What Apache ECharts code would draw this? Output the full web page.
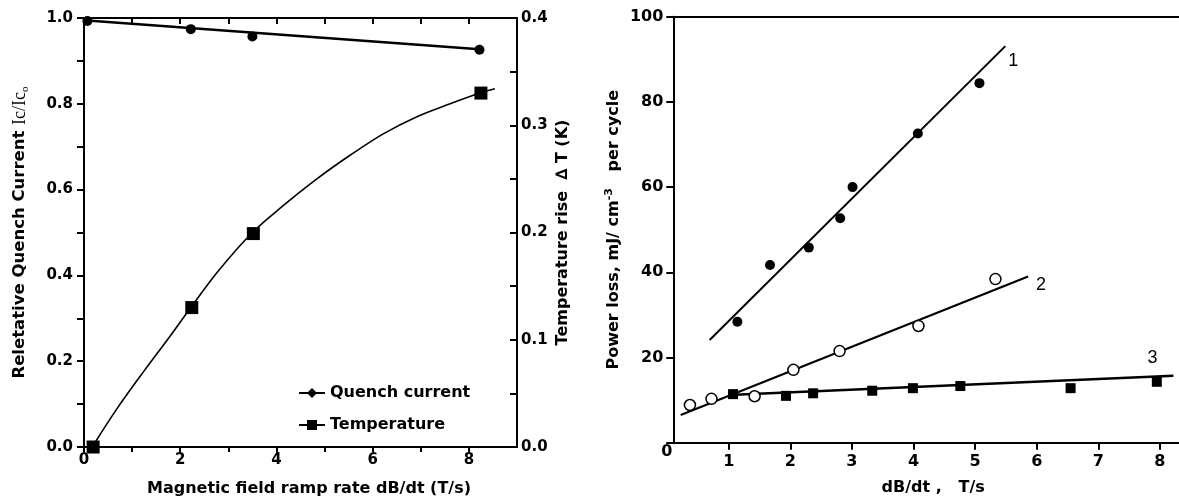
<!DOCTYPE html>
<html><head><meta charset="utf-8">
<script src="https://cdn.jsdelivr.net/npm/echarts@6/dist/echarts.min.js"></script>
<style>html,body{margin:0;padding:0;background:#fff}#c{width:1179px;height:502px}</style>
</head><body><div id="c"></div>
<script>
// ---------- Left panel data ----------
const rampRateQuench = [0.07, 2.22, 3.5, 8.22];
const quenchCurrent  = [0.993, 0.974, 0.957, 0.926];
const quenchFitX = [0.07, 8.22];
const quenchFitY = [0.994, 0.927];
const rampRateTemp = [0.19, 2.24, 3.52, 8.25];
const tempRise     = [0.0, 0.13, 0.199, 0.33];
const tempCurveX = [0.17, 0.69, 1.25, 1.80, 2.22, 2.77, 3.5, 4.14, 4.84, 5.53, 6.22, 6.92, 7.61, 8.23, 8.54];
const tempCurveY = [0.0, 0.036, 0.071, 0.104, 0.130, 0.163, 0.200, 0.225, 0.250, 0.272, 0.292, 0.308, 0.320, 0.330, 0.334];
// left panel tick labels
const leftXLabels = [0, 2, 4, 6, 8];
const leftXTicks  = [0, 1, 2, 3, 4, 5, 6, 7, 8];
const leftYLabels = [0, 0.2, 0.4, 0.6, 0.8, 1.0];
const leftYTicks  = [0, 0.1, 0.2, 0.3, 0.4, 0.5, 0.6, 0.7, 0.8, 0.9, 1.0];
const tempYLabels = [0, 0.1, 0.2, 0.3, 0.4];
const tempYTicks  = [0, 0.05, 0.1, 0.15, 0.2, 0.25, 0.3, 0.35, 0.4];

// ---------- Right panel data ----------
const s1X = [1.14, 1.67, 2.3, 2.81, 3.01, 4.07, 5.07];
const s1Y = [28.4, 41.7, 45.8, 52.7, 60.0, 72.6, 84.4];
const fit1X = [0.69, 5.49];
const fit1Y = [24.1, 93.1];
const s2X = [0.37, 0.72, 1.42, 2.05, 2.80, 4.08, 5.33];
const s2Y = [8.85, 10.3, 10.9, 17.1, 21.5, 27.4, 38.4];
const fit2X = [0.22, 5.86];
const fit2Y = [6.5, 39.0];
const s3X = [1.07, 1.93, 2.37, 3.33, 3.99, 4.76, 6.55, 7.95];
const s3Y = [11.4, 11.0, 11.6, 12.2, 12.8, 13.3, 12.8, 14.3];
const fit3X = [1.0, 8.22];
const fit3Y = [11.2, 15.7];
const curveNames = ['1', '2', '3'];
// right panel tick labels
const rightXLabels = [1, 2, 3, 4, 5, 6, 7, 8];
const rightYLabels = [0, 20, 40, 60, 80, 100];

const pair = (xs, ys) => xs.map((x, i) => [x, ys[i]]);
const F = 'DejaVu Sans';
const tickLbl = (size) => ({ color: '#000', fontFamily: F, fontWeight: 'bold', fontSize: size });
const axLine = { show: true, onZero: false, lineStyle: { color: '#000', width: 2 } };
const solid = { color: '#000', opacity: 1 };

const chart = echarts.init(document.getElementById('c'), null, { renderer: 'canvas' });
const option = {
  animation: false,
  backgroundColor: '#fff',
  color: ['#000'],
  grid: [
    { left: 84, top: 18, width: 433, height: 430 },
    { left: 673.3, top: 16.7, right: 0, height: 426 }
  ],
  legend: {
    left: 299, top: 385, orient: 'vertical', padding: 0, itemGap: 16,
    itemWidth: 26, itemHeight: 12,
    textStyle: { color: '#000', fontFamily: F, fontWeight: 'bold', fontSize: 16 },
    data: [
      { name: 'Quench current', icon: 'path://M0,4 L9,4 L13,0 L17,4 L26,4 L26,6 L17,6 L13,10 L9,6 L0,6 Z' },
      { name: 'Temperature', icon: 'path://M0,4 L8,4 L8,0 L18,0 L18,4 L26,4 L26,6 L18,6 L18,10 L8,10 L8,6 L0,6 Z' }
    ]
  },
  xAxis: [
    { type: 'value', gridIndex: 0, min: 0, max: 9, position: 'bottom',
      axisLine: axLine, splitLine: { show: false },
      axisTick: { show: true, length: 5, customValues: leftXTicks, lineStyle: { color: '#000', width: 2 } },
      axisLabel: Object.assign(tickLbl(15), { customValues: leftXLabels, margin: 6 }),
      name: 'Magnetic field ramp rate dB/dt (T/s)', nameLocation: 'middle', nameGap: 34,
      nameTextStyle: { color: '#000', fontFamily: F, fontWeight: 'bold', fontSize: 16, padding: [0, 0, 0, 17] } },
    { type: 'value', gridIndex: 0, min: 0, max: 9, position: 'top',
      axisLine: axLine, splitLine: { show: false },
      axisTick: { show: true, inside: true, length: 6, customValues: leftXTicks, lineStyle: { color: '#000', width: 2 } },
      axisLabel: { show: false } },
    { type: 'value', gridIndex: 1, min: 0.1, max: 8.31, position: 'bottom',
      axisLine: axLine, splitLine: { show: false },
      axisTick: { show: true, length: 7, customValues: rightXLabels, lineStyle: { color: '#000', width: 2 } },
      axisLabel: Object.assign(tickLbl(16), { customValues: rightXLabels, margin: 11 }),
      name: 'dB/dt ,   T/s', nameLocation: 'middle', nameGap: 37,
      nameTextStyle: { color: '#000', fontFamily: F, fontWeight: 'bold', fontSize: 16, padding: [0, 0, 0, 14] } },
    { type: 'value', gridIndex: 1, min: 0.1, max: 8.31, position: 'top',
      axisLine: axLine, splitLine: { show: false }, axisTick: { show: false }, axisLabel: { show: false } }
  ],
  yAxis: [
    { type: 'value', gridIndex: 0, min: 0, max: 1, position: 'left',
      axisLine: axLine, splitLine: { show: false },
      axisTick: { show: true, length: 7, customValues: leftYTicks, lineStyle: { color: '#000', width: 2 } },
      axisLabel: Object.assign(tickLbl(15), { customValues: leftYLabels, margin: 11, formatter: v => v.toFixed(1) }),
      name: '{a|Reletative Quench Current }{b|Ic/Ic}{c|o}', nameLocation: 'middle', nameGap: 53, nameRotate: 90,
      nameTextStyle: { color: '#000', rich: {
        a: { fontFamily: F, fontWeight: 'bold', fontSize: 16.5, lineHeight: 22, color: '#000' },
        b: { fontFamily: 'Liberation Serif', fontSize: 18, lineHeight: 22, color: '#000' },
        c: { fontFamily: 'Liberation Serif', fontSize: 11, lineHeight: 12, verticalAlign: 'bottom', color: '#000' }
      } } },
    { type: 'value', gridIndex: 0, min: 0, max: 0.4, position: 'right',
      axisLine: axLine, splitLine: { show: false },
      axisTick: { show: true, inside: true, length: 7, customValues: tempYTicks, lineStyle: { color: '#000', width: 2 } },
      axisLabel: Object.assign(tickLbl(15), { customValues: tempYLabels, margin: 4, formatter: v => v.toFixed(1) }),
      name: 'Temperature rise  \u2206 T (K)', nameLocation: 'middle', nameGap: 38, nameRotate: 90,
      nameTextStyle: { color: '#000', fontFamily: F, fontWeight: 'bold', fontSize: 16 } },
    { type: 'value', gridIndex: 1, min: 0, max: 100, interval: 20, position: 'left',
      axisLine: axLine, splitLine: { show: false },
      axisTick: { show: true, length: 7, lineStyle: { color: '#000', width: 2 } },
      axisLabel: Object.assign(tickLbl(16), { customValues: rightYLabels, margin: 10,
        formatter: v => (v === 0 ? '{z|0}' : String(v)),
        rich: { z: { fontFamily: F, fontWeight: 'bold', fontSize: 16, color: '#000', padding: [18, -9, 0, 0] } } }),
      name: '{a|Power loss, mJ/ cm}{s|-3}{a|   per cycle}', nameLocation: 'middle', nameGap: 48, nameRotate: 90,
      nameTextStyle: { color: '#000', rich: {
        a: { fontFamily: F, fontWeight: 'bold', fontSize: 16, lineHeight: 22, color: '#000' },
        s: { fontFamily: F, fontWeight: 'bold', fontSize: 11, lineHeight: 12, verticalAlign: 'top', color: '#000' }
      } } }
  ],
  series: [
    // left panel
    { name: 'Quench current', type: 'line', xAxisIndex: 0, yAxisIndex: 0, data: pair(quenchFitX, quenchFitY),
      symbol: 'none', lineStyle: { color: '#000', width: 2.5 }, itemStyle: solid, z: 2, silent: true },
    { name: 'Quench current', type: 'scatter', xAxisIndex: 0, yAxisIndex: 0, data: pair(rampRateQuench, quenchCurrent),
      symbol: 'circle', symbolSize: 10, itemStyle: solid, z: 3 },
    { name: 'Temperature', type: 'line', xAxisIndex: 0, yAxisIndex: 1, data: pair(tempCurveX, tempCurveY),
      smooth: 0.35,
      symbol: 'none', lineStyle: { color: '#000', width: 1.6 }, itemStyle: solid, z: 2, silent: true },
    { name: 'Temperature', type: 'scatter', xAxisIndex: 0, yAxisIndex: 1, data: pair(rampRateTemp, tempRise),
      symbol: 'rect', symbolSize: 13, itemStyle: solid, z: 3 },
    // right panel fit lines
    { name: 'fit1', type: 'line', xAxisIndex: 2, yAxisIndex: 2, data: pair(fit1X, fit1Y), symbol: 'none',
      lineStyle: { color: '#000', width: 2 }, z: 2, silent: true,
      endLabel: { show: true, formatter: curveNames[0], distance: 0, align: 'center', verticalAlign: 'middle', offset: [8, 15],
        color: '#000', fontFamily: 'Liberation Sans', fontSize: 18 } },
    { name: 'fit2', type: 'line', xAxisIndex: 2, yAxisIndex: 2, data: pair(fit2X, fit2Y), symbol: 'none',
      lineStyle: { color: '#000', width: 2.2 }, z: 2, silent: true,
      endLabel: { show: true, formatter: curveNames[1], distance: 0, align: 'center', verticalAlign: 'middle', offset: [13, 8],
        color: '#000', fontFamily: 'Liberation Sans', fontSize: 18 } },
    { name: 'fit3', type: 'line', xAxisIndex: 2, yAxisIndex: 2, data: pair(fit3X, fit3Y), symbol: 'none',
      lineStyle: { color: '#000', width: 2.5 }, z: 2, silent: true,
      endLabel: { show: true, formatter: curveNames[2], distance: 0, align: 'center', verticalAlign: 'middle', offset: [-21, -18],
        color: '#000', fontFamily: 'Liberation Sans', fontSize: 18 } },
    // right panel points
    { name: 's1', type: 'scatter', xAxisIndex: 2, yAxisIndex: 2, data: pair(s1X, s1Y),
      symbol: 'circle', symbolSize: 10, itemStyle: solid, z: 3 },
    { name: 's2', type: 'scatter', xAxisIndex: 2, yAxisIndex: 2, data: pair(s2X, s2Y),
      symbol: 'circle', symbolSize: 11, itemStyle: { color: '#fff', borderColor: '#000', borderWidth: 1.5, opacity: 1 }, z: 3 },
    { name: 's3', type: 'scatter', xAxisIndex: 2, yAxisIndex: 2, data: pair(s3X, s3Y),
      symbol: 'rect', symbolSize: 10, itemStyle: solid, z: 3 }
  ]
};
chart.setOption(option);
</script>
</body></html>
